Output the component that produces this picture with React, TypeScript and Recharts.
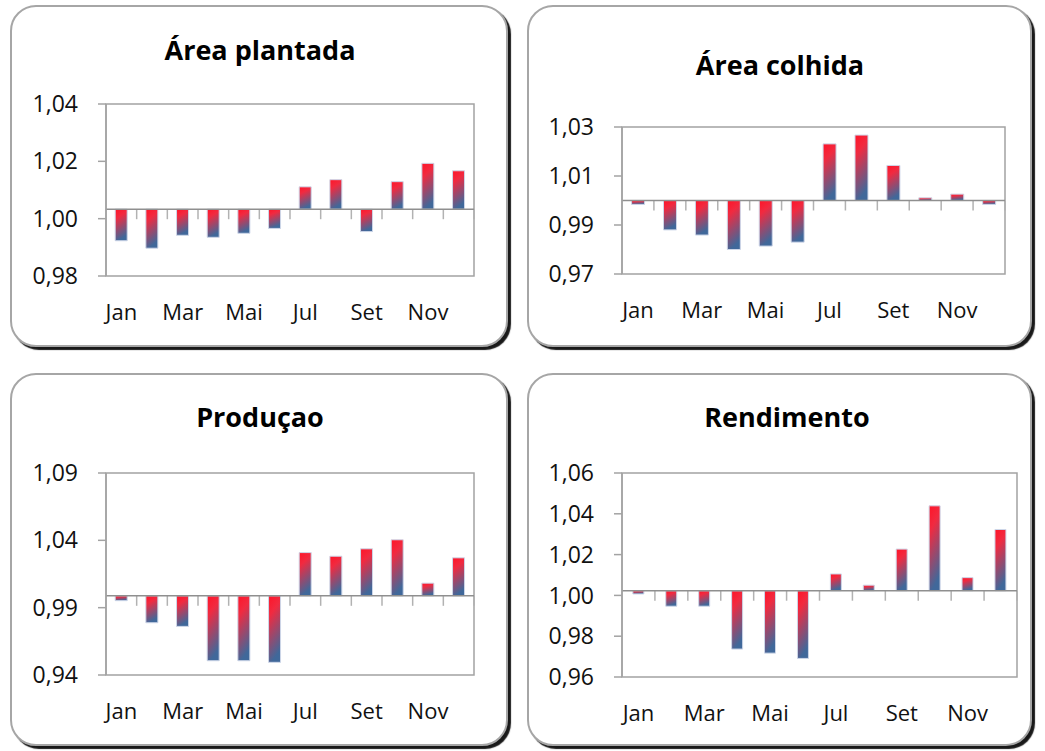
import { BarChart, Bar, XAxis, YAxis, ReferenceLine, ReferenceArea } from "recharts";

const months = ["Jan", "Fev", "Mar", "Abr", "Mai", "Jun", "Jul", "Ago", "Set", "Out", "Nov", "Dez"];

const areaPlantada = [0.9923, 0.9897, 0.9942, 0.9935, 0.9949, 0.9966, 1.0111, 1.0136, 0.9955, 1.0129, 1.0193, 1.0167];
const areaColhida = [0.9984, 0.988, 0.9859, 0.98, 0.9814, 0.983, 1.0231, 1.0267, 1.0143, 1.0011, 1.0026, 0.9984];
const producao = [0.9952, 0.9788, 0.9761, 0.9506, 0.9506, 0.9494, 1.0309, 1.0282, 1.0337, 1.0404, 1.0082, 1.027];
const rendimento = [1.0007, 0.9947, 0.9947, 0.9737, 0.9717, 0.9691, 1.0105, 1.005, 1.0227, 1.0439, 1.0087, 1.0323];

const ticksPlantada = [0.98, 1.0, 1.02, 1.04];
const ticksColhida = [0.97, 0.99, 1.01, 1.03];
const ticksProducao = [0.94, 0.99, 1.04, 1.09];
const ticksRendimento = [0.96, 0.98, 1.0, 1.02, 1.04, 1.06];

const FONT = "'Open Sans', 'DejaVu Sans', sans-serif";
const GRID = "#a3a3a3";
const LEFT = 40; // room for the tick labels
const TOP = 22;
const XH = 52; // x axis band height

type Box = { left: number; top: number; width: number; height: number };

type PanelProps = {
  id: string;
  title: string;
  values: number[];
  base: number;
  ticks: number[];
  box: Box;
  plot: Box; // where the plot frame sits on the page
  titleX: number;
  titleY: number;
  gap: string;
};

const fmt = (v: number) => v.toFixed(2).replace(".", ",");

// axis line drawn where the bars start, with the category tick marks hanging below
const baselineShape = (props: any) => {
  const { x1, x2, y1 } = props;
  const step = (x2 - x1) / months.length;
  return (
    <g>
      {months.map((_, i) => (
        <line
          key={i}
          x1={x1 + step * (i + 1)}
          x2={x1 + step * (i + 1)}
          y1={y1}
          y2={y1 + 10}
          stroke="#b2b2b2"
          strokeWidth={1.5}
        />
      ))}
      <line x1={x1} x2={x2} y1={y1} y2={y1} stroke="#8f8f8f" strokeWidth={1.5} />
    </g>
  );
};

function Panel({ id, title, values, base, ticks, box, plot, titleX, titleY, gap }: PanelProps) {
  const data = months.map((m, i) => ({ month: m, value: values[i] }));
  const lo = ticks[0];
  const hi = ticks[ticks.length - 1];
  const yw = 60;
  return (
    <>
      <div
        style={{
          position: "absolute",
          left: box.left,
          top: box.top,
          width: box.width,
          height: box.height,
          boxSizing: "border-box",
          border: "2px solid #a6a6a6",
          borderRadius: 26,
          boxShadow: "3px 3px 1px rgba(0,0,0,0.9)",
          background: "#fff",
        }}
      />
      <div
        style={{
          position: "absolute",
          left: titleX - 200,
          top: titleY - 20,
          width: 400,
          height: 40,
          lineHeight: "40px",
          textAlign: "center",
          fontFamily: FONT,
          fontWeight: 700,
          fontSize: 27,
          color: "#000",
        }}
      >
        {title}
      </div>
      <div style={{ position: "absolute", left: plot.left - yw - LEFT, top: plot.top - TOP }}>
        <BarChart
          width={plot.width + yw + LEFT + 10}
          height={plot.height + TOP + XH}
          data={data}
          margin={{ top: TOP, right: 10, left: LEFT, bottom: 0 }}
          barCategoryGap={gap}
        >
          <defs>
            <linearGradient id={id} x1="0" y1="0" x2="0.25" y2="1">
              <stop offset="0%" stopColor="#ff1428" />
              <stop offset="30%" stopColor="#f12a40" />
              <stop offset="100%" stopColor="#40689a" />
            </linearGradient>
          </defs>
          <ReferenceArea y1={lo} y2={hi} fill="none" stroke={GRID} strokeWidth={1.5} ifOverflow="visible" />
          <XAxis
            dataKey="month"
            interval={1}
            axisLine={false}
            tickLine={false}
            height={XH}
            tickMargin={22}
            tick={{ fill: "#111", fontSize: 22, fontFamily: FONT }}
          />
          <YAxis
            domain={[lo, hi]}
            ticks={ticks}
            width={yw}
            tickFormatter={fmt}
            axisLine={{ stroke: GRID, strokeWidth: 1.5 }}
            tickLine={{ stroke: GRID, strokeWidth: 1.5 }}
            tickSize={8}
            tickMargin={20}
            tick={{ fill: "#111", fontSize: 23, fontFamily: FONT }}
          />
          <Bar
            dataKey={(d: { value: number }) => [base, d.value]}
            fill={`url(#${id})`}
            stroke="#cdd6e8"
            strokeWidth={1}
            isAnimationActive={false}
          />
          <ReferenceLine y={base} shape={baselineShape} />
        </BarChart>
      </div>
    </>
  );
}

export default function App() {
  return (
    <div style={{ position: "absolute", left: 0, top: 0, width: 1045, height: 751, background: "#fff", fontFamily: FONT }}>
      <Panel
        id="gPlantada"
        title="Área plantada"
        values={areaPlantada}
        base={1.0033}
        ticks={ticksPlantada}
        box={{ left: 10, top: 5, width: 498, height: 342 }}
        plot={{ left: 106, top: 104, width: 368, height: 172 }}
        titleX={260}
        titleY={50}
        gap="30%"
      />
      <Panel
        id="gColhida"
        title="Área colhida"
        values={areaColhida}
        base={1.0}
        ticks={ticksColhida}
        box={{ left: 527, top: 5, width: 505, height: 342 }}
        plot={{ left: 622, top: 127, width: 383, height: 147 }}
        titleX={780}
        titleY={65}
        gap="30%"
      />
      <Panel
        id="gProducao"
        title="Produçao"
        values={producao}
        base={0.9988}
        ticks={ticksProducao}
        box={{ left: 10, top: 373, width: 498, height: 373 }}
        plot={{ left: 106, top: 473, width: 368, height: 202 }}
        titleX={260}
        titleY={417}
        gap="30%"
      />
      <Panel
        id="gRendimento"
        title="Rendimento"
        values={rendimento}
        base={1.0023}
        ticks={ticksRendimento}
        box={{ left: 527, top: 373, width: 505, height: 373 }}
        plot={{ left: 622, top: 473, width: 395, height: 204 }}
        titleX={787}
        titleY={417}
        gap="33%"
      />
    </div>
  );
}
